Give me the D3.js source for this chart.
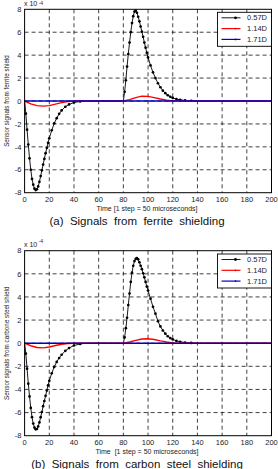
<!DOCTYPE html>
<html>
<head>
<meta charset="utf-8">
<script src="https://cdn.jsdelivr.net/npm/d3@7"></script>
<style>
  html, body { margin: 0; padding: 0; background: #fff; }
  text { font-family: "Liberation Sans", Arial, sans-serif; }
</style>
</head>
<body>
<div id="container"></div>
<script>
const width = 278, height = 469;

// --- Data (values in units of 1e-4) ---
const xTicks = [0, 20, 40, 60, 80, 100, 120, 140, 160, 180, 200];
const yTicks = [-8, -6, -4, -2, 0, 2, 4, 6, 8];
const seriesNames = ["0.57D", "1.14D", "1.71D"];
const seriesColors = ["#000000", "#ff0000", "#0000cc"];

// panel (a) ferrite, 0.57D
const ferriteT1 = [0,1,2,3,4,5,6,7,8,9,10,11,12,13,14,15,16,17,18,19,20,22,24,26,28,30,33,36,40,45,50,60,70,
  80,81,82,83,84,85,86,87,88,89,90,91,92,93,94,95,96,97,98,99,100,102,104,106,108,110,112,114,116,118,120,123,126,130,135,140,150,160,170,180,190,200];
const ferriteV1 = [0,-1.1,-2.5,-3.8,-5.0,-6.0,-6.8,-7.3,-7.65,-7.77,-7.7,-7.45,-7.05,-6.55,-6.05,-5.55,-5.05,-4.55,-4.1,-3.65,-3.25,-2.55,-1.95,-1.5,-1.12,-0.82,-0.5,-0.3,-0.13,-0.04,0,0,0,
  0,0.8,1.8,3.0,4.1,5.1,6.0,6.8,7.4,7.8,7.88,7.7,7.35,6.95,6.5,6.05,5.6,5.1,4.65,4.2,3.8,3.1,2.5,2.0,1.55,1.2,0.9,0.68,0.5,0.37,0.27,0.17,0.1,0.05,0.02,0,0,0,0,0,0,0];
// panel (a) ferrite, 1.14D
const ferriteT2 = [0,5,10,15,20,25,30,35,40,50,60,70,80,85,90,95,100,105,110,115,120,130,140,160,180,200];
const ferriteV2 = [0,-0.25,-0.4,-0.45,-0.4,-0.27,-0.14,-0.05,0,0,0,0,0,0.12,0.3,0.42,0.4,0.3,0.17,0.07,0.01,0,0,0,0,0];
// panel (a) ferrite, 1.71D
const ferriteT3 = [0,50,100,150,200];
const ferriteV3 = [0,0,0,0,0];

// panel (b) carbon steel, 0.57D
const steelT1 = ferriteT1;
const steelV1 = [0,-0.9,-2.2,-3.5,-4.6,-5.6,-6.4,-6.95,-7.3,-7.45,-7.42,-7.2,-6.85,-6.4,-5.95,-5.45,-5.0,-4.55,-4.1,-3.65,-3.25,-2.6,-2.05,-1.62,-1.28,-1.0,-0.66,-0.42,-0.2,-0.06,0,0,0,
  0,0.5,1.3,2.2,3.3,4.3,5.3,6.1,6.7,7.1,7.3,7.35,7.25,7.0,6.7,6.4,6.05,5.7,5.3,4.9,4.55,3.85,3.15,2.55,1.9,1.45,1.1,0.82,0.6,0.44,0.33,0.2,0.12,0.06,0.02,0,0,0,0,0,0,0];
// panel (b) carbon steel, 1.14D
const steelT2 = [0,5,10,15,20,25,30,35,40,50,60,70,80,85,90,95,100,105,110,115,120,125,140,160,180,200];
const steelV2 = [0,-0.22,-0.37,-0.4,-0.33,-0.2,-0.09,-0.02,0,0,0,0,0,0.1,0.25,0.36,0.38,0.32,0.2,0.1,0.03,0,0,0,0,0];
// panel (b) carbon steel, 1.71D
const steelT3 = [0,50,100,150,200];
const steelV3 = [0,0,0,0,0];

const svg = d3.select("#container").append("svg")
  .attr("width", width).attr("height", height);
svg.append("rect").attr("width", width).attr("height", height).attr("fill", "#fff");

function zip(ts, vs) { return ts.map((t, i) => ({ t, v: vs[i] })); }

function drawPanel(cfg) {
  const x = d3.scaleLinear().domain([0, 200]).range([24.6, 271.5]);
  const y = d3.scaleLinear().domain([-8, 8]).range([cfg.bottom, cfg.top]);
  const g = svg.append("g");

  // dashed grid
  for (const v of xTicks.slice(1, -1)) {
    g.append("line").attr("x1", x(v)).attr("x2", x(v)).attr("y1", cfg.top).attr("y2", cfg.bottom)
      .attr("stroke", "#111").attr("stroke-width", 0.8).attr("stroke-dasharray", "4,3");
  }
  for (const v of yTicks.slice(1, -1)) {
    g.append("line").attr("x1", x(0)).attr("x2", x(200)).attr("y1", y(v)).attr("y2", y(v))
      .attr("stroke", "#111").attr("stroke-width", 0.8).attr("stroke-dasharray", "4,3");
  }

  // series
  const line = d3.line().x(d => x(d.t)).y(d => y(d.v));
  cfg.series.forEach((s, i) => {
    const pts = zip(s.t, s.v);
    g.append("path").datum(pts).attr("d", line)
      .attr("fill", "none").attr("stroke", seriesColors[i])
      .attr("stroke-width", i === 0 ? 0.9 : 1.4);
    if (i === 0) {
      g.selectAll(null).data(pts.filter(d => d.v !== 0)).enter().append("circle")
        .attr("cx", d => x(d.t)).attr("cy", d => y(d.v)).attr("r", 1.35).attr("fill", "#000");
    }
  });

  // axes box
  g.append("rect").attr("x", x(0)).attr("y", cfg.top)
    .attr("width", x(200) - x(0)).attr("height", cfg.bottom - cfg.top)
    .attr("fill", "none").attr("stroke", "#000").attr("stroke-width", 1);

  // tick labels
  g.selectAll(null).data(xTicks).enter().append("text")
    .attr("x", d => x(d)).attr("y", cfg.bottom + 9)
    .attr("text-anchor", "middle").attr("fill", "#222").style("font-size", "7.5px")
    .text(d => d);
  g.selectAll(null).data(yTicks).enter().append("text")
    .attr("x", 21.5).attr("y", d => y(d) + 2.7)
    .attr("text-anchor", "end").attr("fill", "#222").style("font-size", "7.5px")
    .text(d => d);

  // exponent label
  g.append("text").attr("x", 24).attr("y", cfg.top - 3.5)
    .attr("fill", "#222").style("font-size", "7px").text("x 10");
  g.append("text").attr("x", 38.5).attr("y", Math.max(cfg.top - 7.5, 4.6))
    .attr("fill", "#222").style("font-size", "5px").text("-4");

  // axis labels
  g.append("text").attr("x", 147).attr("y", cfg.bottom + 18.5)
    .attr("text-anchor", "middle").attr("fill", "#222").style("font-size", "7px")
    .style("white-space", "pre").text(cfg.xLabel);
  g.append("text")
    .attr("transform", `translate(8.5,${(cfg.top + cfg.bottom) / 2}) rotate(-90)`)
    .attr("text-anchor", "middle").attr("fill", "#222").style("font-size", "6.3px")
    .text(cfg.yLabel);

  // caption
  g.append("text").attr("x", 137).attr("y", cfg.bottom + 32)
    .attr("text-anchor", "middle").attr("fill", "#111").style("font-size", "11.5px")
    .style("white-space", "pre").text(cfg.caption);

  // legend
  const lx = 217.5, ly = cfg.legendTop, lw = 54, lh = 34;
  g.append("rect").attr("x", lx).attr("y", ly).attr("width", lw).attr("height", lh)
    .attr("fill", "#fff").attr("stroke", "#000").attr("stroke-width", 0.9);
  seriesNames.forEach((name, i) => {
    const ry = ly + 5.5 + i * 10.8;
    g.append("line").attr("x1", lx + 4).attr("x2", lx + 23).attr("y1", ry).attr("y2", ry)
      .attr("stroke", seriesColors[i]).attr("stroke-width", i === 0 ? 0.9 : 1.2);
    g.append("circle").attr("cx", lx + 18).attr("cy", ry).attr("r", i === 0 ? 1.4 : 0.9)
      .attr("fill", seriesColors[i]);
    g.append("text").attr("x", lx + 29.5).attr("y", ry + 2.6)
      .attr("fill", "#222").style("font-size", "7.5px").text(name);
  });
}

drawPanel({
  top: 9.3, bottom: 192.7, legendTop: 12.3,
  series: [{ t: ferriteT1, v: ferriteV1 }, { t: ferriteT2, v: ferriteV2 }, { t: ferriteT3, v: ferriteV3 }],
  xLabel: "Time [1 step = 50 microseconds]",
  yLabel: "Sensor signals from ferrite shield",
  caption: "(a)  Signals  from  ferrite  shielding"
});

drawPanel({
  top: 250.7, bottom: 435.7, legendTop: 254,
  series: [{ t: steelT1, v: steelV1 }, { t: steelT2, v: steelV2 }, { t: steelT3, v: steelV3 }],
  xLabel: "Time  [1 step = 50 microseconds]",
  yLabel: "Sensor signals from carbone steel shield",
  caption: "(b)  Signals  from  carbon  steel  shielding"
});
</script>
</body>
</html>
